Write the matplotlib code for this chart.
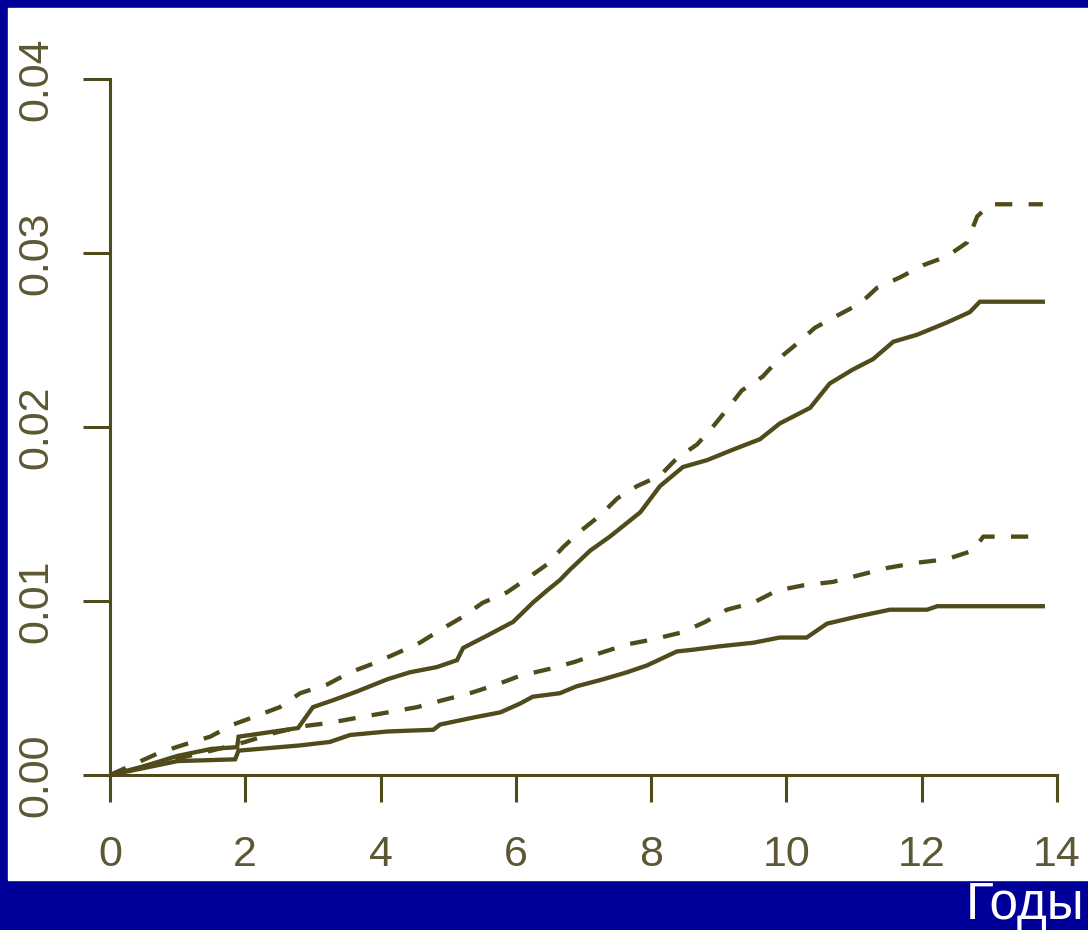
import matplotlib.pyplot as plt

# upper solid curve
xa = [0, 0.5, 1.0, 1.5, 1.88, 1.9, 2.78, 3.0, 3.3, 3.65, 4.1, 4.43, 4.83, 5.13, 5.22,
      5.57, 5.96, 6.25, 6.46, 6.65, 6.8, 7.1, 7.39, 7.84, 8.13, 8.47, 8.83, 9.21,
      9.61, 9.9, 10.35, 10.64, 10.98, 11.28, 11.58, 11.93, 12.37, 12.71, 12.86, 13.79]
ya = [0, 0.0005, 0.0011, 0.0015, 0.0016, 0.0022, 0.0027, 0.0039, 0.0043, 0.0048, 0.0055,
      0.0059, 0.0062, 0.0066, 0.0073, 0.0080, 0.0088, 0.0099, 0.0106, 0.0112, 0.0118,
      0.0129, 0.0137, 0.0151, 0.0166, 0.0177, 0.0181, 0.0187, 0.0193, 0.0202, 0.0211,
      0.0225, 0.0233, 0.0239, 0.0249, 0.0253, 0.0260, 0.0266, 0.0272, 0.0272]

# upper dashed curve
xb = [0, 0.74, 1.14, 1.48, 1.82, 2.17, 2.51, 2.81, 3.21, 3.55, 3.89, 4.24, 4.58, 4.91,
      5.22, 5.51, 5.87, 6.17, 6.46, 6.7, 6.95, 7.24, 7.5, 7.79, 8.13, 8.38, 8.68, 8.91,
      9.14, 9.34, 9.65, 9.91, 10.16, 10.42, 10.75, 11.09, 11.34, 11.68, 12.02, 12.37,
      12.67, 12.82, 13.01, 13.79]
yb = [0, 0.0013, 0.0018, 0.0022, 0.0029, 0.0034, 0.0039, 0.0047, 0.0052, 0.0059, 0.0064,
      0.0070, 0.0076, 0.0084, 0.0091, 0.0099, 0.0105, 0.0113, 0.0121, 0.0131, 0.0140,
      0.0149, 0.0159, 0.0166, 0.0172, 0.0182, 0.0190, 0.0200, 0.0211, 0.0221, 0.0229,
      0.0240, 0.0248, 0.0257, 0.0264, 0.0271, 0.0280, 0.0286, 0.0293, 0.0298, 0.0306,
      0.0321, 0.0328, 0.0328]

# lower dashed curve
xc = [0, 0.7, 1.4, 2.0, 2.41, 2.85, 3.25, 3.67, 4.11, 4.54, 4.92, 5.32, 5.72, 6.06, 6.5,
      6.87, 7.24, 7.64, 8.03, 8.46, 8.8, 9.12, 9.51, 9.86, 10.25, 10.69, 11.09, 11.49,
      11.93, 12.37, 12.76, 12.91, 13.79]
yc = [0, 0.0007, 0.0013, 0.0019, 0.0024, 0.0028, 0.0030, 0.0033, 0.0036, 0.0039, 0.0043,
      0.0047, 0.0052, 0.0057, 0.0061, 0.0065, 0.0070, 0.0075, 0.0078, 0.0082, 0.0088,
      0.0095, 0.0099, 0.0106, 0.0109, 0.0111, 0.0115, 0.0119, 0.0122, 0.0124, 0.0129,
      0.0137, 0.0137]

# lower solid curve
xd = [0, 0.5, 1.0, 1.85, 1.9, 2.81, 3.25, 3.55, 4.1, 4.78, 4.88, 5.37, 5.77, 6.06, 6.25,
      6.65, 6.9, 7.29, 7.64, 7.94, 8.38, 8.62, 9.02, 9.51, 9.9, 10.3, 10.6, 11.04, 11.53,
      12.08, 12.23, 13.79]
yd = [0, 0.0004, 0.0008, 0.0009, 0.0014, 0.0017, 0.0019, 0.0023, 0.0025, 0.0026, 0.0029,
      0.0033, 0.0036, 0.0041, 0.0045, 0.0047, 0.0051, 0.0055, 0.0059, 0.0063, 0.0071,
      0.0072, 0.0074, 0.0076, 0.0079, 0.0079, 0.0087, 0.0091, 0.0095, 0.0095, 0.0097,
      0.0097]

xticks = [0, 2, 4, 6, 8, 10, 12, 14]
yticks = [0.00, 0.01, 0.02, 0.03, 0.04]
ylabels = ['0.00', '0.01', '0.02', '0.03', '0.04']

line_col = '#4f4b1a'
text_col = '#5c5834'

fig = plt.figure(figsize=(10.88, 9.30), dpi=100, facecolor='#000099')
# white panel
fig.patches.append(plt.Rectangle((8 / 1088, 50 / 930), 1.0, 872 / 930,
                                 transform=fig.transFigure, color='white', zorder=-10))

ax = fig.add_axes([110 / 1088, 155 / 930, 947 / 1088, 696 / 930])
ax.set_facecolor('none')
ax.set_zorder(5)

ax.plot(xa, ya, color=line_col, lw=3.1, solid_joinstyle='miter')
ax.plot(xb, yb, color=line_col, lw=3.1, dashes=(4.0, 3.8))
ax.plot(xc, yc, color=line_col, lw=3.1, dashes=(4.0, 3.8))
ax.plot(xd, yd, color=line_col, lw=3.1, solid_joinstyle='miter')

ax.set_xlim(0, 14)
ax.set_ylim(0, 0.04)
ax.set_xticks(xticks)
ax.set_xticklabels([str(t) for t in xticks])
ax.set_yticks(yticks)
ax.set_yticklabels(ylabels, rotation=90, va='center')

for s in ['top', 'right']:
    ax.spines[s].set_visible(False)
for s in ['left', 'bottom']:
    ax.spines[s].set_color(line_col)
    ax.spines[s].set_linewidth(2.2)

ax.tick_params(direction='out', length=19.5, width=2.2, color=line_col,
               labelcolor=text_col, labelsize=31)
ax.tick_params(axis='x', pad=24)
ax.tick_params(axis='y', pad=19)
for lab in ax.get_xticklabels() + ax.get_yticklabels():
    lab.set_family('Liberation Sans')

fig.text(1084 / 1088, 11 / 930, 'Годы', color='white', fontsize=37,
         family='Liberation Sans', ha='right', va='baseline', zorder=10)

fig.savefig('out.png', dpi=100, facecolor=fig.get_facecolor())
